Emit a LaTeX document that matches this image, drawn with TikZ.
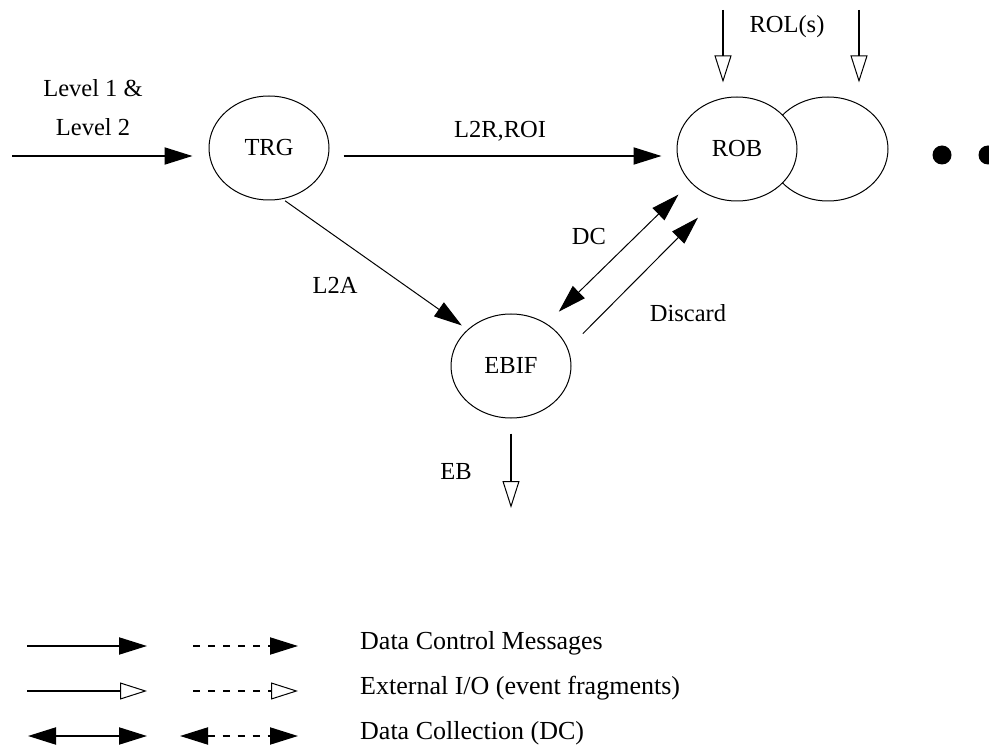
\documentclass[tikz,border=0pt]{standalone}
\usepackage{fontspec}
\setmainfont{Liberation Serif}
\usetikzlibrary{arrows.meta, positioning, shapes.geometric, calc}

\begin{document}
\begin{tikzpicture}[x=1pt, y=-1pt,
    proc/.style={draw=black, ellipse, line width=1pt, minimum width=120pt, minimum height=104pt, inner sep=0pt, fill=white, font=\fontsize{24.5}{29}\selectfont},
    lbl/.style={font=\fontsize{24.5}{29}\selectfont, inner sep=0pt},
    legtxt/.style={font=\fontsize{26}{31}\selectfont, anchor=west, inner sep=0pt},
    ctrl/.style={line width=2pt, -{Triangle[length=28pt, width=17pt]}},
    ctrlthin/.style={line width=1pt, -{Triangle[length=28pt, width=17pt]}},
    extio/.style={line width=2pt, -{Triangle[open, line width=1pt, length=27pt, width=17pt]}},
    dcol/.style={line width=2pt, {Triangle[length=28pt, width=17pt]}-{Triangle[length=28pt, width=17pt]}},
    dcthin/.style={line width=1pt, {Triangle[length=28pt, width=17pt]}-{Triangle[length=28pt, width=17pt]}},
    dashy/.style={dash pattern=on 7pt off 8pt}]
    \useasboundingbox (0,0) rectangle (989,746);
    \clip (0,0) rectangle (989,746);

    % processes
    \node[proc] (TRG) at (269,148) {TRG};
    \node[proc] (ROB2) at (828,149) {};
    \node[proc] (ROB) at (737,149) {ROB};
    \node[proc] (EBIF) at (511,366) {EBIF};
    \fill (942,155) circle (9.5);
    \fill (988,155) circle (9.5);

    % inputs
    \coordinate (lvlin) at (12,156);
    \draw[ctrl, shorten >=16pt] (lvlin) -- (lvlin -| TRG.west);
    \node[lbl, align=center, font=\fontsize{24.5}{39}\selectfont] (lvl) at (93,108) {Level 1 \&\\Level 2};
    \coordinate (rolA) at (723,10);
    \coordinate (rolB) at (859,10);
    \draw[extio, shorten >=14pt] (rolA) -- (rolA |- ROB.north);
    \draw[extio, shorten >=14pt] (rolB) -- (rolB |- ROB2.north);
    \node[lbl] (rol) at (787,27) {ROL(s)};

    % messages
    \draw[ctrl, shorten <=14pt, shorten >=15pt] (TRG.east |- lvlin) -- (ROB.west |- lvlin);
    \node[lbl] (l2r) at (500,131) {L2R,ROI};
    \draw[ctrlthin, shorten <=3pt, shorten >=7pt] (TRG.-75) -- (EBIF.140);
    \node[lbl] (l2a) at (335,285) {L2A};
    \draw[dcthin, shorten <=17pt, shorten >=17pt] (EBIF.50) -- (ROB.216);
    \node[lbl] (dc) at (589,237) {DC};
    \draw[ctrlthin, shorten <=21pt, shorten >=27pt] (EBIF.17) -- (ROB.248);
    \node[lbl] (disc) at (688,313) {Discard};
    \coordinate (ebout) at (511,508);
    \draw[extio, shorten <=15pt] (EBIF.south) -- (ebout);
    \node[lbl] (eb) at (456,472) {EB};

    % legend
    \coordinate (k1a) at (27,646);  \coordinate (k1b) at (147,646);
    \coordinate (k1c) at (193,646); \coordinate (k1d) at (298,646);
    \draw[ctrl] (k1a) -- (k1b);
    \draw[ctrl, dashy] (k1c) -- (k1d);
    \node[legtxt] (k1) at (360,643) {Data Control Messages};
    \coordinate (k2a) at (27,691);  \coordinate (k2b) at (147,691);
    \coordinate (k2c) at (193,691); \coordinate (k2d) at (298,691);
    \draw[extio] (k2a) -- (k2b);
    \draw[extio, dashy] (k2c) -- (k2d);
    \node[legtxt] (k2) at (360,688) {External I/O (event fragments)};
    \coordinate (k3a) at (28,736);  \coordinate (k3b) at (147,736);
    \coordinate (k3c) at (180,736); \coordinate (k3d) at (298,736);
    \draw[dcol] (k3a) -- (k3b);
    \draw[dcol, dashy] (k3c) -- (k3d);
    \node[legtxt] (k3) at (360,733) {Data Collection (DC)};
\end{tikzpicture}
\end{document}
